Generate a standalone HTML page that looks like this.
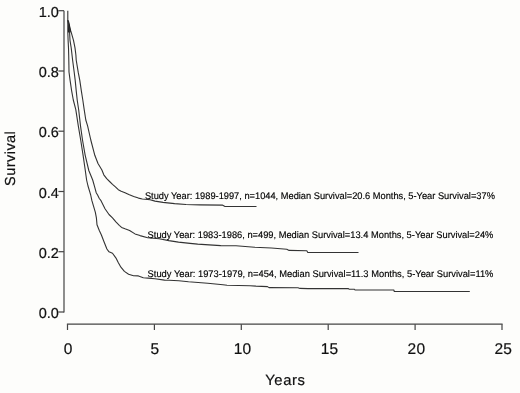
<!DOCTYPE html>
<html><head><meta charset="utf-8"><style>
html,body{margin:0;padding:0;background:#fdfdfb;}
body{width:520px;height:393px;overflow:hidden;}
svg{display:block;font-family:"Liberation Sans",sans-serif;will-change:transform;text-rendering:geometricPrecision;}
</style></head><body>
<svg width="520" height="393" viewBox="0 0 520 393">
<rect width="520" height="393" fill="#fdfdfb"/>
<g stroke="#444" stroke-width="1.2" fill="none">
<line x1="64" y1="10.7" x2="64" y2="312.4"/>
<line x1="58.4" y1="312.0" x2="64" y2="312.0"/><line x1="58.4" y1="251.7" x2="64" y2="251.7"/><line x1="58.4" y1="191.5" x2="64" y2="191.5"/><line x1="58.4" y1="131.2" x2="64" y2="131.2"/><line x1="58.4" y1="71.0" x2="64" y2="71.0"/><line x1="58.4" y1="10.7" x2="64" y2="10.7"/>
<line x1="66.9" y1="324.2" x2="502.6" y2="324.2"/>
<line x1="67.5" y1="324.2" x2="67.5" y2="330"/><line x1="154.4" y1="324.2" x2="154.4" y2="330"/><line x1="241.3" y1="324.2" x2="241.3" y2="330"/><line x1="328.2" y1="324.2" x2="328.2" y2="330"/><line x1="415.1" y1="324.2" x2="415.1" y2="330"/><line x1="502.0" y1="324.2" x2="502.0" y2="330"/>
</g>
<g fill="#111" stroke="#111" stroke-width="0.2" font-size="14">
<text x="58.8" y="318.0" text-anchor="end" font-size="14.5">0.0</text><text x="58.8" y="257.7" text-anchor="end" font-size="14.5">0.2</text><text x="58.8" y="197.5" text-anchor="end" font-size="14.5">0.4</text><text x="58.8" y="137.2" text-anchor="end" font-size="14.5">0.6</text><text x="58.8" y="77.0" text-anchor="end" font-size="14.5">0.8</text><text x="58.8" y="16.7" text-anchor="end" font-size="14.5">1.0</text>
<text x="68.1" y="353.9" text-anchor="middle" font-size="15.5" letter-spacing="0.2">0</text><text x="155.0" y="353.9" text-anchor="middle" font-size="15.5" letter-spacing="0.2">5</text><text x="242.6" y="353.9" text-anchor="middle" font-size="15.5" letter-spacing="0.2">10</text><text x="329.5" y="353.9" text-anchor="middle" font-size="15.5" letter-spacing="0.2">15</text><text x="416.4" y="353.9" text-anchor="middle" font-size="15.5" letter-spacing="0.2">20</text><text x="503.3" y="353.9" text-anchor="middle" font-size="15.5" letter-spacing="0.2">25</text>
<text x="285.4" y="385" text-anchor="middle" font-size="14.8" letter-spacing="0.6">Years</text>
<text transform="translate(14.6,158.3) rotate(-90)" text-anchor="middle" font-size="14.5" letter-spacing="0.45">Survival</text>
</g>
<g stroke="#333" stroke-width="1.1" fill="none" stroke-linejoin="round">
<polyline points="67.8,10.8 67.8,20.0 69.3,25.0 70.6,30.5 71.3,32.6 73.5,40.3 75.0,47.9 75.9,55.0 76.2,60.0 78.2,72.2 79.8,80.4 81.3,90.6 82.8,100.0 84.2,109.6 85.8,120.0 87.6,125.9 90.8,140.0 94.8,155.3 98.0,163.5 101.9,170.0 103.8,174.8 106.7,178.7 109.6,181.5 112.5,184.4 115.4,186.8 118.3,189.7 121.2,191.2 125.0,192.8 128.8,194.5 133.7,196.4 138.5,198.1 142.3,199.0 150.0,199.8 155.0,201.1 163.0,202.4 174.6,203.6 186.0,204.5 200.0,204.9 222.3,205.1 225.0,206.5 256.5,206.5"/>
<path d="M68,21 L69,21 L70.8,31.5 L70.4,32.6 L68,32.6 Z" fill="#1a1a1a" stroke="none"/>
<polyline points="67.8,20.0 68.8,26.0 69.5,31.0 70.0,40.3 71.2,47.9 71.8,53.0 72.6,60.0 74.2,72.2 75.2,80.4 76.2,90.6 77.2,100.0 78.7,110.0 80.5,125.9 82.5,140.0 85.2,155.3 88.8,170.5 92.7,180.0 94.5,186.4 96.2,192.7 97.6,195.0 99.3,198.5 101.0,200.7 105.0,208.7 109.0,214.5 112.5,217.9 115.9,221.9 119.3,225.3 121.6,227.4 125.0,228.8 129.6,230.5 135.0,233.9 140.0,235.6 147.7,237.7 159.2,238.8 168.8,240.6 178.5,242.1 190.0,243.4 197.7,244.1 213.0,245.1 220.8,245.6 236.0,245.8 245.2,246.5 254.5,247.2 271.4,248.0 286.8,249.2 289.1,250.4 306.8,250.7 307.8,252.5 358.5,252.5"/>
<polyline points="67.8,20.0 67.8,32.0 68.1,40.3 68.5,47.9 68.7,55.0 68.9,65.3 69.0,72.0 70.1,80.4 71.6,90.6 73.3,100.0 75.8,109.6 78.3,125.9 80.7,140.0 83.1,155.3 85.3,170.5 86.6,180.0 88.0,186.0 90.0,192.7 90.7,195.0 91.9,200.7 93.6,206.4 95.3,212.2 96.4,217.9 97.0,224.7 99.3,230.5 101.4,235.0 104.1,242.0 106.9,249.0 109.0,251.8 112.5,253.2 116.0,258.1 118.1,262.3 120.9,267.2 124.4,271.4 128.6,274.2 133.5,275.8 138.4,275.9 143.3,277.7 148.1,278.1 155.0,278.7 164.6,280.1 169.0,280.3 178.8,280.8 188.5,281.8 207.7,283.3 223.0,284.7 227.0,285.2 250.0,285.7 256.0,286.1 267.5,286.6 269.0,287.6 298.0,287.7 300.0,288.4 308.0,288.6 348.4,288.6 349.0,289.2 354.5,289.3 355.0,290.0 393.8,290.0 394.3,291.5 469.8,291.5"/>
</g>
<g fill="#000" stroke="#000" stroke-width="0.15" font-size="9.6">
<text x="144.9" y="199" textLength="350" lengthAdjust="spacingAndGlyphs">Study Year: 1989-1997, n=1044, Median Survival=20.6 Months, 5-Year Survival=37%</text>
<text x="147.6" y="238" textLength="345.8" lengthAdjust="spacingAndGlyphs">Study Year: 1983-1986, n=499, Median Survival=13.4 Months, 5-Year Survival=24%</text>
<text x="147.6" y="277" textLength="345.8" lengthAdjust="spacingAndGlyphs">Study Year: 1973-1979, n=454, Median Survival=11.3 Months, 5-Year Survival=11%</text>
</g>
</svg>
</body></html>
